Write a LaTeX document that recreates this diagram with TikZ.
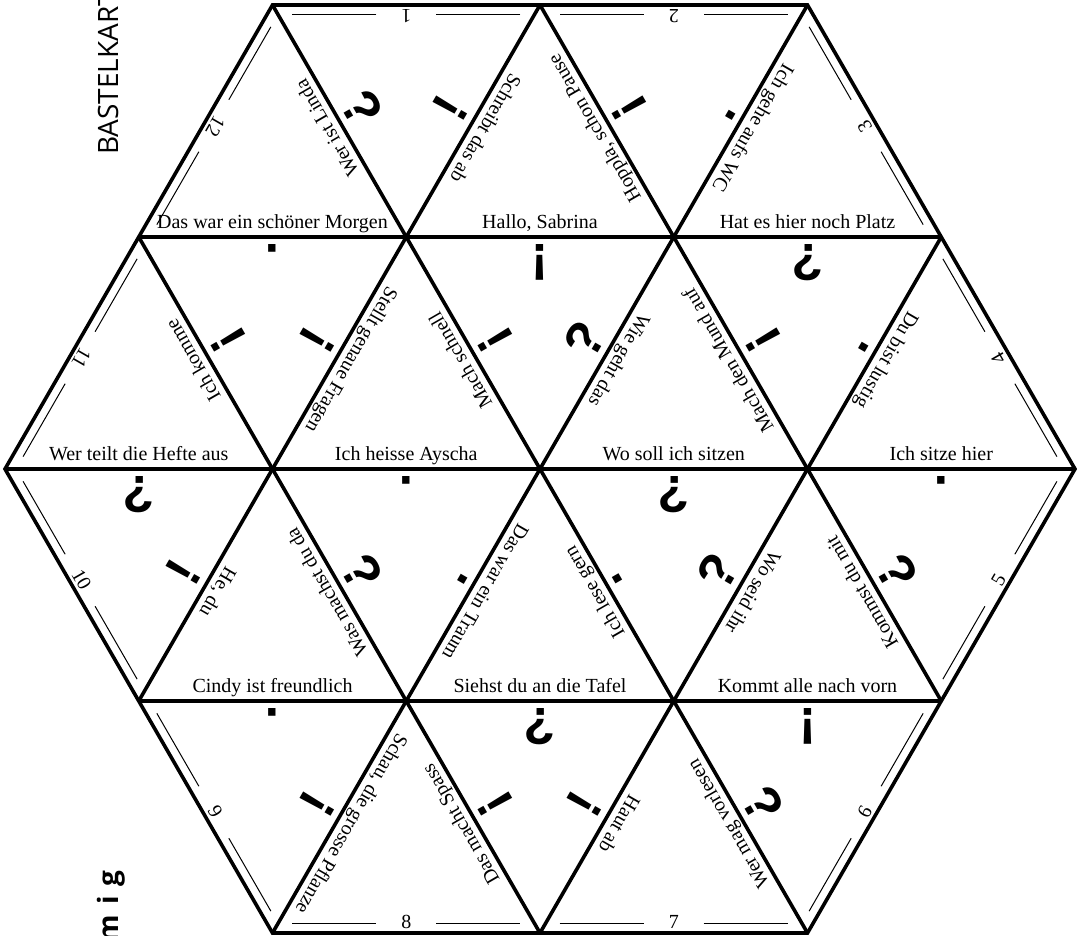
\documentclass[tikz,border=0pt]{standalone}
\usepackage{fontspec}
\setmainfont{Liberation Serif}
\newfontfamily\markfont{Liberation Sans}
\newfontfamily\osfont{Open Sans}
\usetikzlibrary{calc}

\tikzset{
  edgeline/.style={line width=3.6pt, line join=miter, line cap=butt},
  guide/.style={line width=1pt},
  sent/.style={font=\fontsize{20}{22}\selectfont, inner sep=0pt, anchor=base},
  num/.style={font=\fontsize{20}{22}\selectfont, inner sep=0pt, anchor=base},
  mk/.style={font=\markfont\bfseries\fontsize{52}{52}\selectfont, inner sep=0pt, anchor=base},
}
\newcommand\snt[5]{\node[sent,rotate=#4] (#1) at ($(#2)!0.5!(#3)!8pt!90:(#3)$) {#5};}
\newcommand\mrk[5]{\node[mk,rotate=#4] (#1) at ($(#2)!0.5!(#3)!8pt!90:(#3)$) {#5};}
\newcommand\nmb[5]{\node[num,rotate=#4] (#1) at ($(#2)!0.5!(#3)!4.5pt!90:(#3)$) {#5};
  \draw[guide] ($(#2)!0.0738!(#3)!9.5pt!90:(#3)$) -- ($(#2)!0.3879!(#3)!9.5pt!90:(#3)$);
  \draw[guide] ($(#2)!0.6121!(#3)!9.5pt!90:(#3)$) -- ($(#2)!0.9262!(#3)!9.5pt!90:(#3)$);}

\begin{document}
\begin{tikzpicture}[x=1pt,y=1pt]
\useasboundingbox (0,0) rectangle (1077,936);
% vertices
\coordinate (A0) at (272.5,931);  \coordinate (A1) at (540,931);    \coordinate (A2) at (807.5,931);
\coordinate (B0) at (138.75,699); \coordinate (B1) at (406.25,699); \coordinate (B2) at (673.75,699); \coordinate (B3) at (941.25,699);
\coordinate (C0) at (5,467);      \coordinate (C1) at (272.5,467);  \coordinate (C2) at (540,467);    \coordinate (C3) at (807.5,467); \coordinate (C4) at (1075,467);
\coordinate (D0) at (138.75,235); \coordinate (D1) at (406.25,235); \coordinate (D2) at (673.75,235); \coordinate (D3) at (941.25,235);
\coordinate (E0) at (272.5,3);    \coordinate (E1) at (540,3);      \coordinate (E2) at (807.5,3);

% grid lines
\draw[edgeline] (A0) -- (A2) -- (C4) -- (E2) -- (E0) -- (C0) -- cycle;
\draw[edgeline] (B0) -- (B3);
\draw[edgeline] (C0) -- (C4);
\draw[edgeline] (D0) -- (D3);
\draw[edgeline] (A1) -- (D3);
\draw[edgeline] (A0) -- (E2);
\draw[edgeline] (B0) -- (E1);
\draw[edgeline] (A2) -- (E0);
\draw[edgeline] (A1) -- (D0);
\draw[edgeline] (B3) -- (E1);

% outer numbers with guide lines
\nmb{n1}{A1}{A0}{180}{1}
\nmb{n2}{A2}{A1}{180}{2}
\nmb{n3}{B3}{A2}{120}{3}
\nmb{n4}{C4}{B3}{120}{4}
\nmb{n5}{D3}{C4}{60}{5}
\nmb{n6}{E2}{D3}{60}{6}
\nmb{n7}{E1}{E2}{0}{7}
\nmb{n8}{E0}{E1}{0}{8}
\nmb{n9}{D0}{E0}{-60}{9}
\nmb{n10}{C0}{D0}{-60}{10}
\nmb{n11}{B0}{C0}{-120}{11}
\nmb{n12}{A0}{B0}{-120}{12}

% sentences
\snt{s1}{B1}{A0}{120}{Wer ist Linda}
\snt{s2}{B0}{B1}{0}{Das war ein schöner Morgen}
\snt{s3}{A1}{B1}{-120}{Schreibt das ab}
\snt{s4}{B2}{A1}{120}{Hoppla, schon Pause}
\snt{s5}{B1}{B2}{0}{Hallo, Sabrina}
\snt{s6}{A2}{B2}{-120}{Ich gehe aufs WC}
\snt{s7}{B2}{B3}{0}{Hat es hier noch Platz}
\snt{s8}{C1}{B0}{120}{Ich komme}
\snt{s9}{C0}{C1}{0}{Wer teilt die Hefte aus}
\snt{s10}{B1}{C1}{-120}{Stellt genaue Fragen}
\snt{s11}{C2}{B1}{120}{Mach schnell}
\snt{s12}{C1}{C2}{0}{Ich heisse Ayscha}
\snt{s13}{B2}{C2}{-120}{Wie geht das}
\snt{s14}{C3}{B2}{120}{Mach den Mund auf}
\snt{s15}{C2}{C3}{0}{Wo soll ich sitzen}
\snt{s16}{B3}{C3}{-120}{Du bist lustig}
\snt{s17}{C3}{C4}{0}{Ich sitze hier}
\snt{s18}{C1}{D0}{-120}{He, du}
\snt{s19}{D1}{C1}{120}{Was machst du da}
\snt{s20}{D0}{D1}{0}{Cindy ist freundlich}
\snt{s21}{C2}{D1}{-120}{Das war ein Traum}
\snt{s22}{D2}{C2}{120}{Ich lese gern}
\snt{s23}{D1}{D2}{0}{Siehst du an die Tafel}
\snt{s24}{C3}{D2}{-120}{Wo seid ihr}
\snt{s25}{D3}{C3}{120}{Kommst du mit}
\snt{s26}{D2}{D3}{0}{Kommt alle nach vorn}
\snt{s27}{D1}{E0}{-120}{Schau, die grosse Pflanze}
\snt{s28}{E1}{D1}{120}{Das macht Spass}
\snt{s29}{D2}{E1}{-120}{Haut ab}
\snt{s30}{E2}{D2}{120}{Wer mag vorlesen}

% punctuation marks
\mrk{m1}{A0}{B1}{-60}{?}
\mrk{m2}{B1}{A1}{60}{!}
\mrk{m3}{A1}{B2}{-60}{!}
\mrk{m4}{B2}{A2}{60}{.}
\mrk{m5}{B1}{B0}{180}{.}
\mrk{m6}{B0}{C1}{-60}{!}
\mrk{m7}{C1}{B1}{60}{!}
\mrk{m8}{B2}{B1}{180}{!}
\mrk{m9}{B1}{C2}{-60}{!}
\mrk{m10}{C2}{B2}{60}{?}
\mrk{m11}{B3}{B2}{180}{?}
\mrk{m12}{B2}{C3}{-60}{!}
\mrk{m13}{C3}{B3}{60}{.}
\mrk{m14}{C1}{C0}{180}{?}
\mrk{m15}{D0}{C1}{60}{!}
\mrk{m16}{C2}{C1}{180}{.}
\mrk{m17}{C1}{D1}{-60}{?}
\mrk{m18}{D1}{C2}{60}{.}
\mrk{m19}{C3}{C2}{180}{?}
\mrk{m20}{C2}{D2}{-60}{.}
\mrk{m21}{D2}{C3}{60}{?}
\mrk{m22}{C4}{C3}{180}{.}
\mrk{m23}{C3}{D3}{-60}{?}
\mrk{m24}{D1}{D0}{180}{.}
\mrk{m25}{E0}{D1}{60}{!}
\mrk{m26}{D2}{D1}{180}{?}
\mrk{m27}{D1}{E1}{-60}{!}
\mrk{m28}{E1}{D2}{60}{!}
\mrk{m29}{D3}{D2}{180}{!}
\mrk{m30}{D2}{E2}{-60}{?}

% side titles
\node[font=\osfont\fontsize{28}{28}\selectfont, rotate=90, anchor=base west, inner sep=0pt] (title) at (118,781) {BASTELKART};
\node[font=\osfont\bfseries\fontsize{28}{28}\selectfont, rotate=90, anchor=base east, inner sep=0pt] (level) at (118,66) {m\hspace{10pt}i\hspace{10pt}g};
\end{tikzpicture}
\end{document}
